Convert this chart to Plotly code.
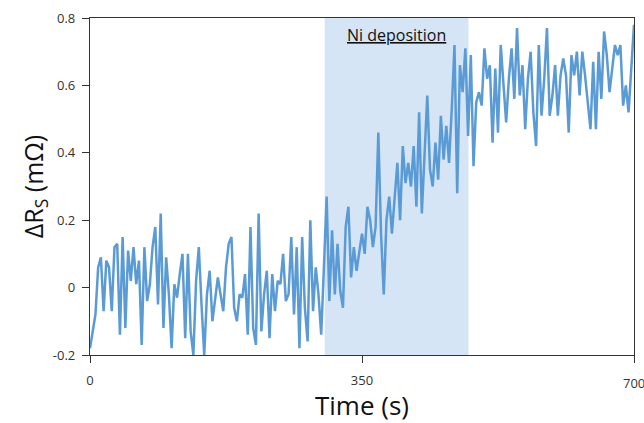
import plotly.graph_objects as go

time_s = [round(i * 3.5, 1) for i in range(201)]
delta_rs = [
    -0.18, -0.13, -0.08, 0.06, 0.09, -0.07, 0.08, 0.06, -0.07, 0.12,
    0.13, -0.14, 0.15, -0.12, 0.11, 0.02, 0.12, 0.01, 0.08, -0.17,
    0.12, -0.04, 0.01, 0.12, 0.18, -0.05, 0.22, -0.12, 0.09, -0.02,
    -0.18, 0.01, -0.03, 0.04, 0.10, -0.15, 0.10, -0.13, -0.20, 0.02,
    0.12, -0.05, -0.20, -0.02, 0.05, -0.10, -0.03, 0.03, -0.02, -0.07,
    0.06, 0.13, 0.15, -0.06, -0.10, -0.02, -0.03, 0.04, -0.14, 0.18,
    -0.12, -0.17, 0.22, -0.13, -0.02, 0.05, -0.15, 0.04, -0.07, 0.02,
    0.01, 0.10, -0.04, -0.02, 0.15, -0.08, 0.12, -0.18, 0.15, -0.06,
    -0.16, 0.20, -0.07, 0.06, -0.02, -0.14, 0.06, 0.27, -0.04, 0.17,
    -0.02, 0.13, -0.01, -0.06, 0.18, 0.24, 0.03, 0.12, 0.05, 0.10,
    0.16, 0.10, 0.24, 0.20, 0.12, 0.18, 0.46, 0.16, -0.02, 0.20,
    0.27, 0.16, 0.26, 0.37, 0.20, 0.42, 0.31, 0.37, 0.30, 0.42,
    0.24, 0.52, 0.22, 0.40, 0.57, 0.35, 0.30, 0.43, 0.32, 0.51,
    0.38, 0.48, 0.37, 0.53, 0.72, 0.28, 0.66, 0.58, 0.71, 0.45,
    0.69, 0.36, 0.55, 0.58, 0.54, 0.71, 0.62, 0.66, 0.43, 0.65,
    0.46, 0.72, 0.59, 0.49, 0.62, 0.71, 0.56, 0.77, 0.57, 0.66,
    0.47, 0.62, 0.70, 0.52, 0.42, 0.72, 0.51, 0.62, 0.77, 0.51,
    0.57, 0.66, 0.51, 0.63, 0.68, 0.63, 0.46, 0.69, 0.63, 0.70,
    0.57, 0.70, 0.63, 0.55, 0.47, 0.67, 0.47, 0.70, 0.56, 0.76,
    0.69, 0.58, 0.65, 0.72, 0.69, 0.72, 0.54, 0.60, 0.52, 0.65,
    0.78,
]
shade_start, shade_end = 302, 487
x_ticks = [0, 350, 700]
x_tick_text = ["0", "350", ""]
y_ticks = [-0.2, 0, 0.2, 0.4, 0.6, 0.8]
y_tick_text = ["-0.2", "0", "0.2", "0.4", "0.6", "0.8"]

fig = go.Figure()
fig.add_trace(go.Scatter(
    x=time_s, y=delta_rs, mode="lines",
    line=dict(color="#5b9bd5", width=2.5),
    showlegend=False,
))
fig.add_shape(type="rect", xref="x", yref="paper",
              x0=shade_start, x1=shade_end, y0=0, y1=1,
              fillcolor="#d5e5f5", line_width=0, layer="below")
fig.add_annotation(x=(shade_start + shade_end) / 2, y=1, xref="x", yref="paper",
                   yshift=-4, yanchor="top", showarrow=False,
                   text="<u>Ni deposition</u>",
                   font=dict(family="Open Sans", size=16, color="#111111"))

axis_font = dict(family="Open Sans", size=13, color="#333333")
# last x tick label, right at the page edge as in the reference
fig.add_annotation(x=x_ticks[-1], y=0, xref="x", yref="paper", yanchor="top",
                   xanchor="center", yshift=-17, showarrow=False,
                   text=str(x_ticks[-1]), font=axis_font)

fig.update_layout(
    width=644, height=423,
    margin=dict(l=90, r=9, t=10, b=68),
    paper_bgcolor="white", plot_bgcolor="white",
    xaxis=dict(range=[0, 700], tickvals=x_ticks, ticktext=x_tick_text,
               ticks="outside", ticklen=7,
               tickcolor="#333333", showline=True, linecolor="#333333",
               linewidth=1.2, mirror=True, showgrid=False, zeroline=False,
               tickfont=axis_font, ticklabelstandoff=6,
               title=dict(text="Time (s)", font=dict(family="Open Sans", size=26, color="#111111"),
                          standoff=0)),
    yaxis=dict(range=[-0.2, 0.8], tickvals=y_ticks, ticktext=y_tick_text,
               ticks="outside", ticklen=7, tickcolor="#333333", showline=True,
               linecolor="#333333", linewidth=1.2, mirror=True, showgrid=False,
               zeroline=False, tickfont=axis_font, ticklabelstandoff=4,
               title=dict(text="ΔR<sub>S</sub> (mΩ)",
                          font=dict(family="Open Sans", size=25, color="#111111"),
                          standoff=2)),
)
fig.write_html("out.html")
